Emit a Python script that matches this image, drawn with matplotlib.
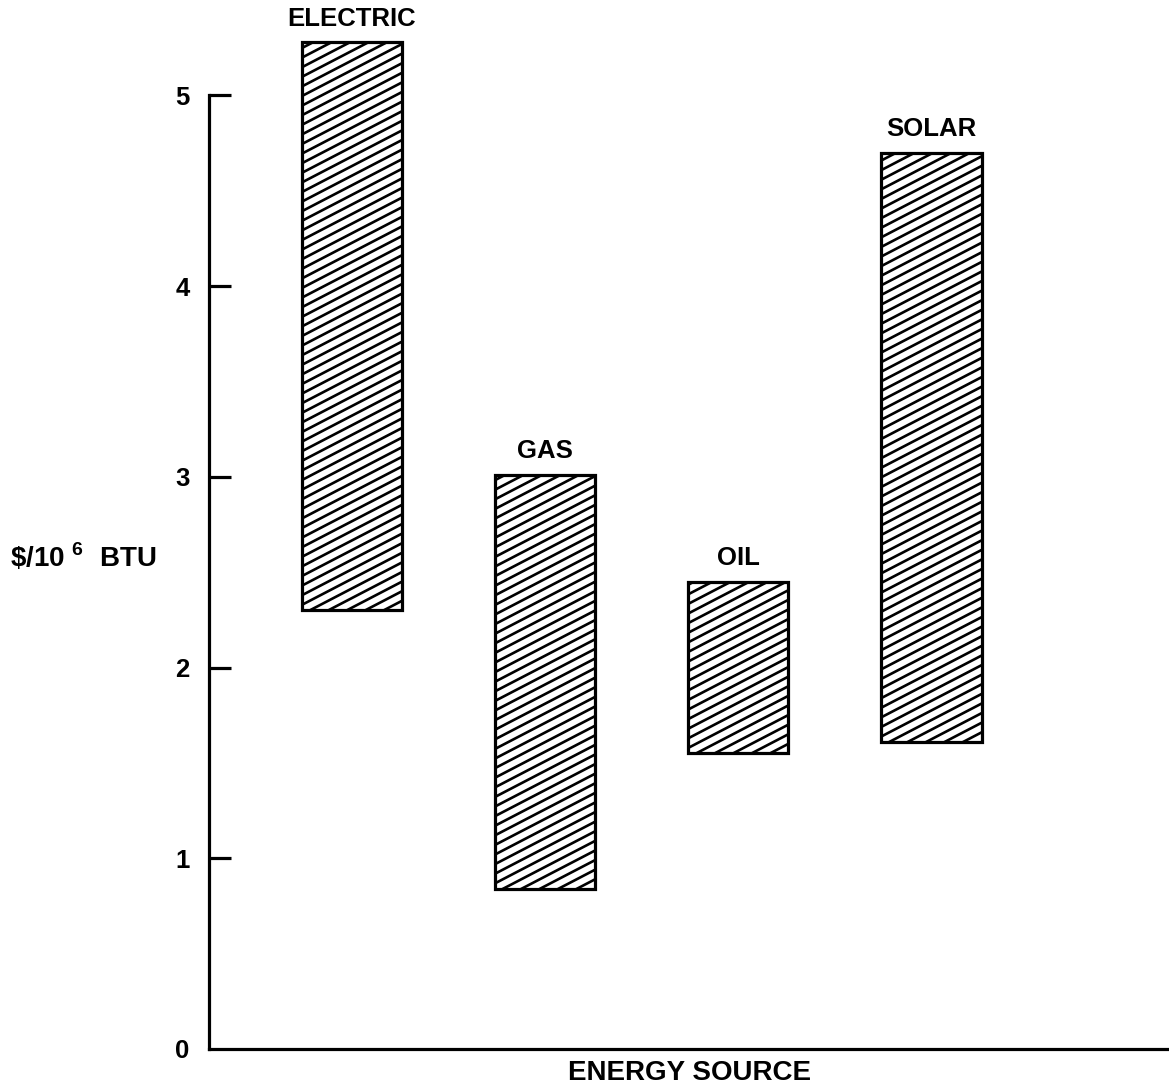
import numpy as np
import matplotlib
matplotlib.use("Agg")
import matplotlib.pyplot as plt
from matplotlib.transforms import IdentityTransform

plt.rcParams['font.family'] = ['Liberation Sans', 'DejaVu Sans']
plt.rcParams['font.weight'] = 'bold'
plt.rcParams['mathtext.fontset'] = 'custom'
plt.rcParams['mathtext.rm'] = 'Liberation Sans:bold'
plt.rcParams['mathtext.bf'] = 'Liberation Sans:bold'

# cost range per energy source ($ per million BTU)
sources = ["ELECTRIC", "GAS", "OIL", "SOLAR"]
low = [2.30, 0.84, 1.55, 1.61]
high = [5.28, 3.01, 2.45, 4.70]
yticks = [0, 1, 2, 3, 4, 5]

FS = 18.5

fig = plt.figure(figsize=(11.69, 10.89), dpi=100)
ax = fig.add_axes([209 / 1169, 40 / 1089, 960 / 1169, 1049 / 1089])

x = np.arange(len(sources))
heights = [h - l for h, l in zip(high, low)]
bars = ax.bar(x, heights, bottom=low, width=0.52, facecolor='none',
              edgecolor='black', linewidth=2.3, zorder=3)

ax.set_xlim(-0.74, 4.23)
ax.set_ylim(0, 5.5)

# shallow hatch lines, drawn in pixels and clipped to each bar
slope = 0.52
step = 9.6
for rect in bars:
    (x0, y0), (x1, y1) = ax.transData.transform(
        [(rect.get_x(), rect.get_y()),
         (rect.get_x() + rect.get_width(), rect.get_y() + rect.get_height())])
    w = x1 - x0
    for c in np.arange(y0 - slope * w, y1 + step, step):
        ln, = ax.plot([x0, x1], [c, c + slope * w], color='black', lw=1.9,
                      transform=IdentityTransform(), zorder=2)
        ln.set_clip_path(rect)

for xi, h, name in zip(x, high, sources):
    ax.text(xi, h + 0.06, name, ha='center', va='bottom', fontsize=FS,
            fontweight='bold')

ax.spines['top'].set_visible(False)
ax.spines['right'].set_visible(False)
ax.spines['left'].set_linewidth(2.3)
ax.spines['bottom'].set_linewidth(2.3)
ax.spines['left'].set_bounds(0, 5)

ax.set_xticks([])
ax.set_yticks(yticks)
ax.set_yticklabels([str(t) for t in yticks])
ax.tick_params(axis='y', direction='in', length=16, width=2.3, pad=14,
               labelsize=FS)
for lbl in ax.get_yticklabels():
    lbl.set_fontweight('bold')
ax.yaxis.get_major_ticks()[0].tick1line.set_visible(False)

ax.set_xlabel("ENERGY SOURCE", fontsize=20, fontweight='bold', labelpad=8)
fig.text(10 / 1169, 1 - 557 / 1089, r"\$/10 $^{\mathbf{6}}$  BTU", ha='left',
         va='center', fontsize=20, fontweight='bold')

fig.savefig("out.png", dpi=100)
